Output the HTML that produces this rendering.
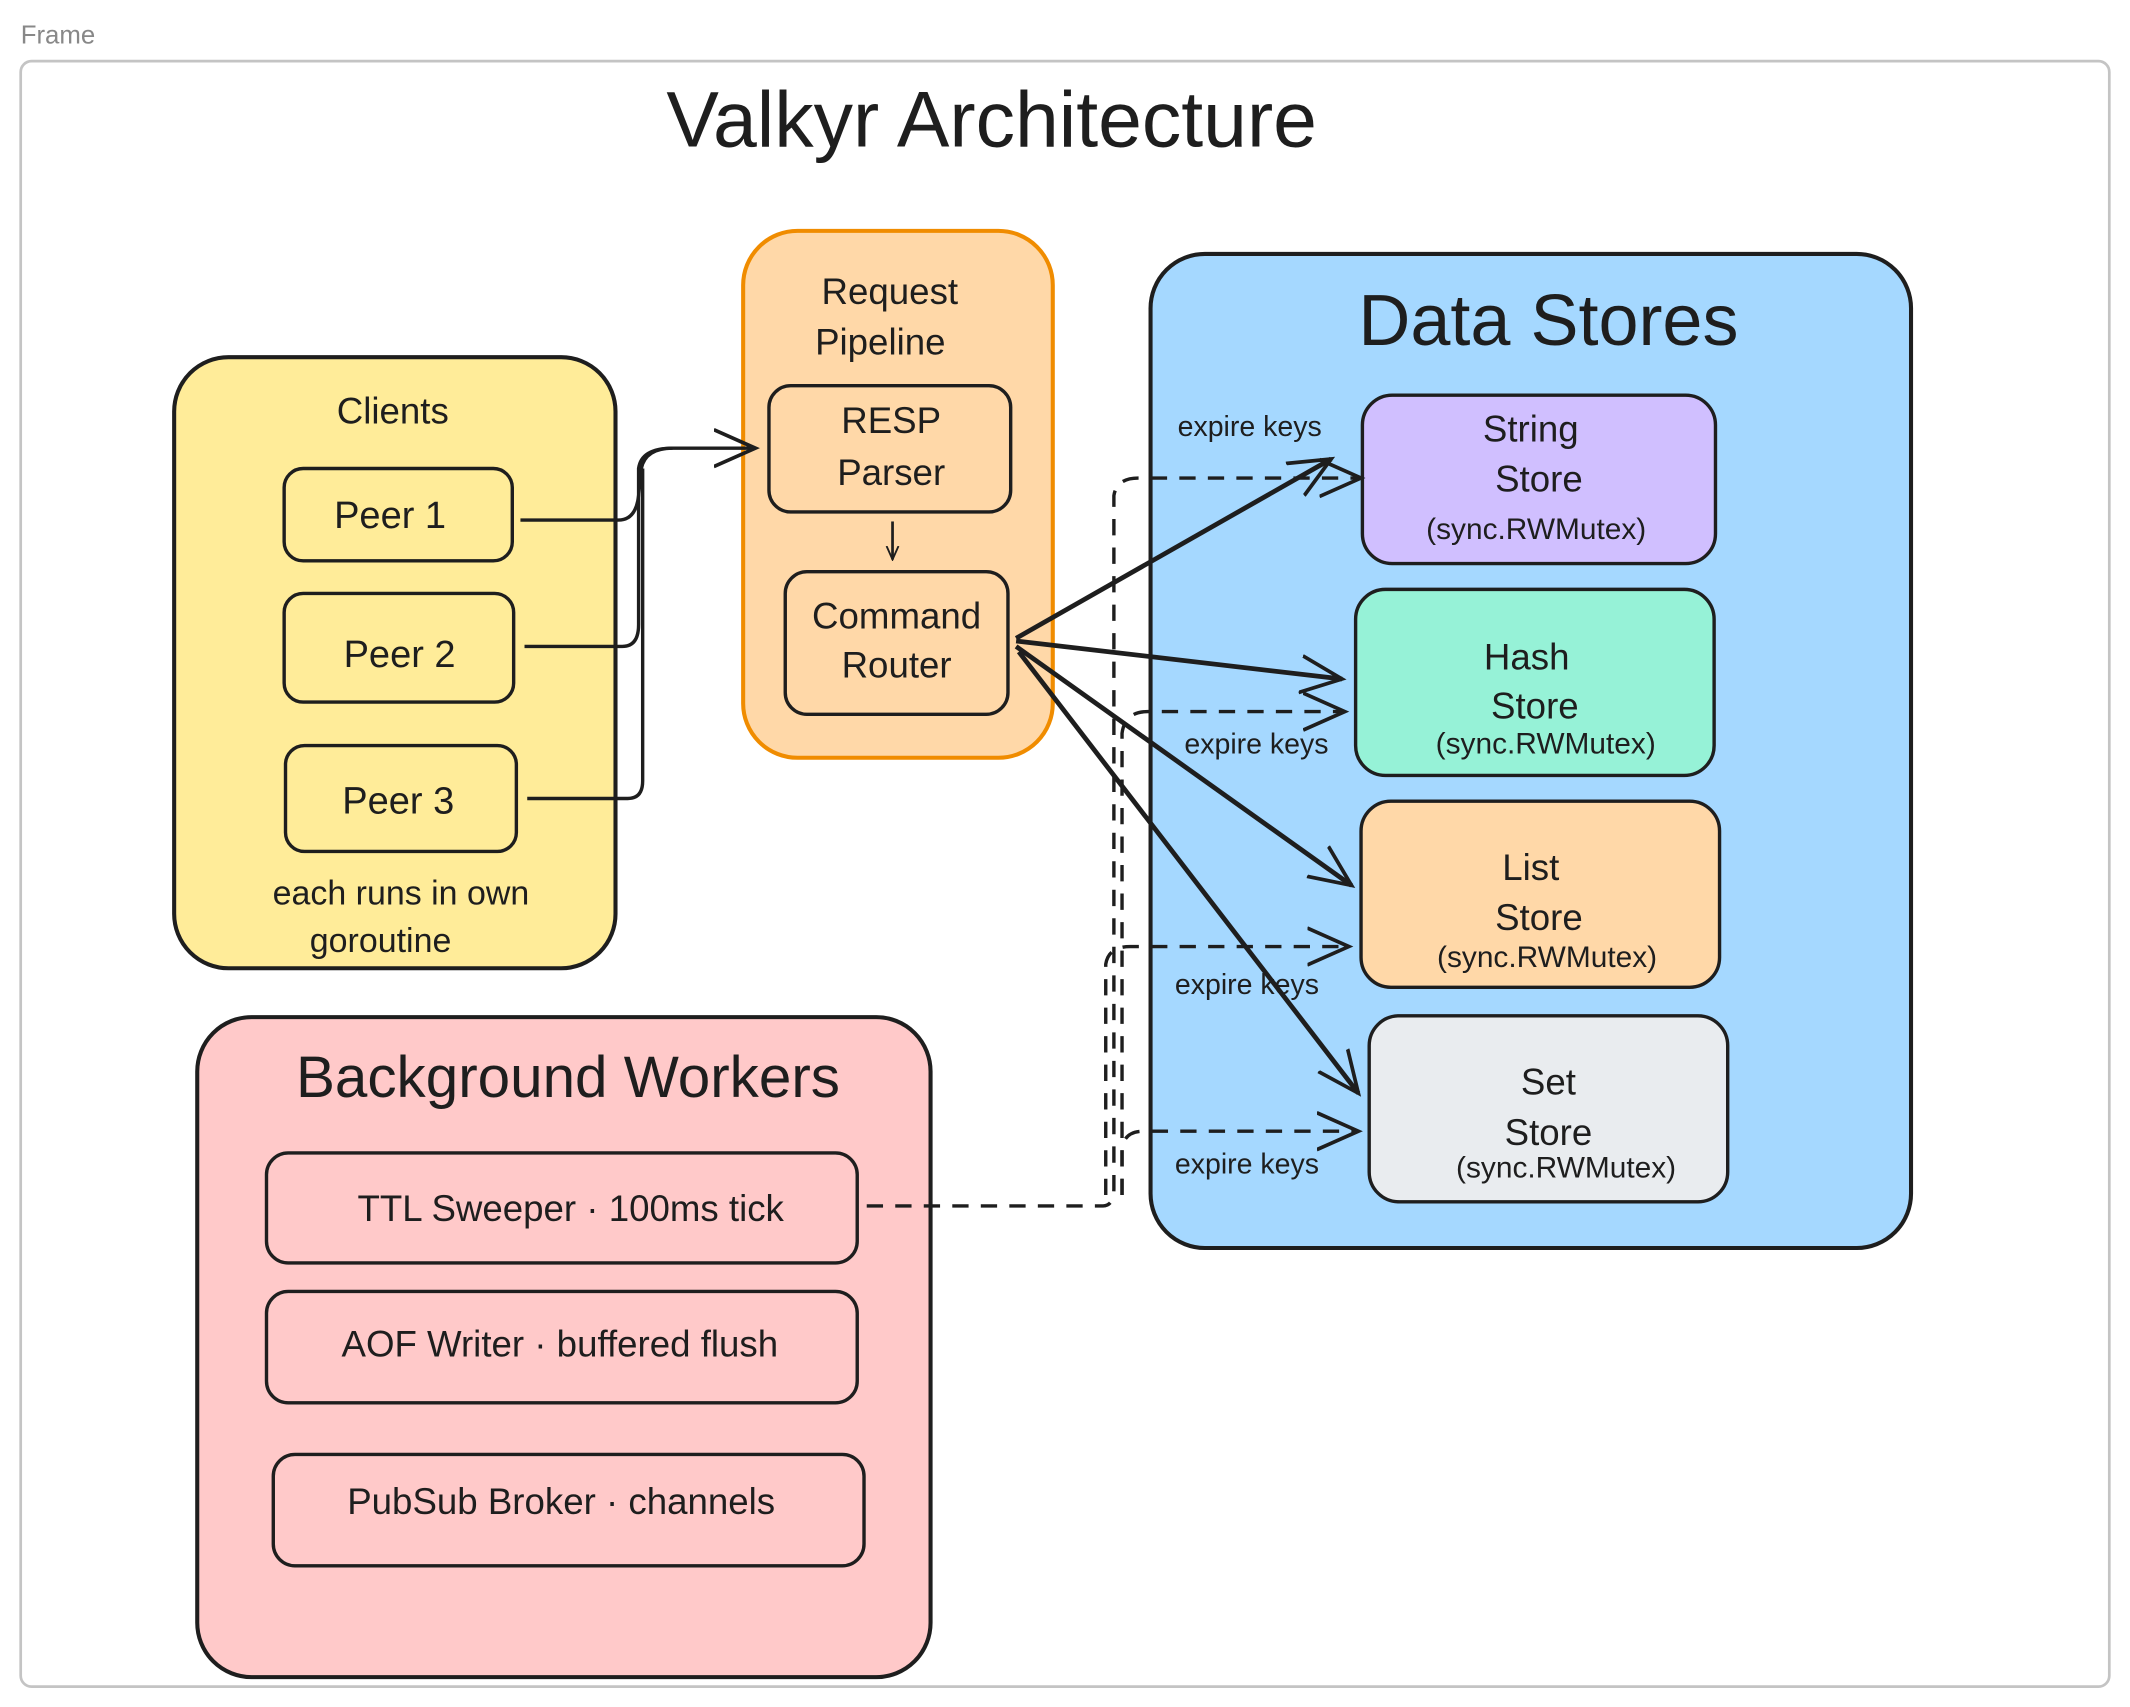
<!DOCTYPE html>
<html><head><meta charset="utf-8"><style>
html,body{margin:0;padding:0;background:#fff;}
svg{display:block;}
text{font-family:"Liberation Sans","DejaVu Sans",sans-serif;fill:#1e1e1e;text-anchor:middle;}
</style></head><body>
<svg width="2130" height="1707" viewBox="0 0 1568 1257" xmlns="http://www.w3.org/2000/svg">
<defs>
<marker id="a" viewBox="0 0 20 20" refX="18" refY="10" markerWidth="11" markerHeight="11" orient="auto" markerUnits="userSpaceOnUse"><path d="M0,2 L18,10 L0,18" fill="none" stroke="#1e1e1e" stroke-width="2.5"/></marker>
<marker id="b" viewBox="0 0 20 20" refX="18" refY="10" markerWidth="34" markerHeight="34" orient="auto" markerUnits="userSpaceOnUse"><path d="M0,2 L18,10 L0,18" fill="none" stroke="#1e1e1e" stroke-width="1.6"/></marker>
</defs>
<text x="15" y="32" style="text-anchor:start;fill:#888;font-size:19px">Frame</text>
<rect x="15" y="45" width="1538" height="1197" rx="8" fill="none" stroke="#c4c4c4" stroke-width="2"/>
<text x="730" y="108" font-size="58">Valkyr Architecture</text>

<!-- Clients -->
<rect x="128" y="263" width="325" height="450" rx="40" fill="#ffec99" stroke="#1e1e1e" stroke-width="3"/>
<text x="289" y="312" font-size="27">Clients</text>
<rect x="209" y="345" width="168" height="68" rx="14" fill="#ffec99" stroke="#1e1e1e" stroke-width="2.5"/>
<text x="287" y="389" font-size="28">Peer 1</text>
<rect x="209" y="437" width="169" height="80" rx="14" fill="#ffec99" stroke="#1e1e1e" stroke-width="2.5"/>
<text x="294" y="491" font-size="28">Peer 2</text>
<rect x="210" y="549" width="170" height="78" rx="14" fill="#ffec99" stroke="#1e1e1e" stroke-width="2.5"/>
<text x="293" y="599" font-size="28">Peer 3</text>
<text x="295" y="666" font-size="25">each runs in own</text>
<text x="280" y="701" font-size="25">goroutine</text>

<!-- Pipeline -->
<rect x="547" y="170" width="228" height="388" rx="40" fill="#ffd8a8" stroke="#f08c00" stroke-width="3"/>
<text x="655" y="224" font-size="27">Request</text>
<text x="648" y="261" font-size="27">Pipeline</text>
<rect x="566" y="284" width="178" height="93" rx="16" fill="#ffd8a8" stroke="#1e1e1e" stroke-width="2.5"/>
<text x="656" y="319" font-size="27">RESP</text>
<text x="656" y="357" font-size="27">Parser</text>
<line x1="657" y1="384" x2="657" y2="412" stroke="#1e1e1e" stroke-width="2" marker-end="url(#a)"/>
<rect x="578" y="421" width="164" height="105" rx="16" fill="#ffd8a8" stroke="#1e1e1e" stroke-width="2.5"/>
<text x="660" y="463" font-size="27">Command</text>
<text x="660" y="499" font-size="27">Router</text>

<!-- Data stores -->
<rect x="847" y="187" width="560" height="732" rx="40" fill="#a5d8ff" stroke="#1e1e1e" stroke-width="3"/>
<text x="1140" y="254" font-size="53">Data Stores</text>
<rect x="1003" y="291" width="260" height="124" rx="22" fill="#d0bfff" stroke="#1e1e1e" stroke-width="2.5"/>
<text x="1127" y="325" font-size="27">String</text>
<text x="1133" y="362" font-size="27">Store</text>
<text x="1131" y="397" font-size="22">(sync.RWMutex)</text>
<rect x="998" y="434" width="264" height="137" rx="22" fill="#96f2d7" stroke="#1e1e1e" stroke-width="2.5"/>
<text x="1124" y="493" font-size="27">Hash</text>
<text x="1130" y="529" font-size="27">Store</text>
<text x="1138" y="555" font-size="22">(sync.RWMutex)</text>
<rect x="1002" y="590" width="264" height="137" rx="22" fill="#ffd8a8" stroke="#1e1e1e" stroke-width="2.5"/>
<text x="1127" y="648" font-size="27">List</text>
<text x="1133" y="685" font-size="27">Store</text>
<text x="1139" y="712" font-size="22">(sync.RWMutex)</text>
<rect x="1008" y="748" width="264" height="137" rx="22" fill="#e9ecef" stroke="#1e1e1e" stroke-width="2.5"/>
<text x="1140" y="806" font-size="27">Set</text>
<text x="1140" y="843" font-size="27">Store</text>
<text x="1153" y="867" font-size="22">(sync.RWMutex)</text>

<!-- Background workers -->
<rect x="145" y="749" width="540" height="486" rx="40" fill="#ffc9c9" stroke="#1e1e1e" stroke-width="3"/>
<text x="418" y="808" font-size="43">Background Workers</text>
<rect x="196" y="849" width="435" height="81" rx="16" fill="#ffc9c9" stroke="#1e1e1e" stroke-width="2.5"/>
<text x="420" y="899" font-size="27">TTL Sweeper · 100ms tick</text>
<rect x="196" y="951" width="435" height="82" rx="16" fill="#ffc9c9" stroke="#1e1e1e" stroke-width="2.5"/>
<text x="412" y="999" font-size="27">AOF Writer · buffered flush</text>
<rect x="201" y="1071" width="435" height="82" rx="16" fill="#ffc9c9" stroke="#1e1e1e" stroke-width="2.5"/>
<text x="413" y="1115" font-size="27">PubSub Broker · channels</text>

<!-- client connectors -->
<g fill="none" stroke="#1e1e1e" stroke-width="2.5">
<path d="M383,383 L455,383 Q468,383 470,365 L472,345 Q475,330 495,330 L556,330" marker-end="url(#b)"/>
<path d="M386,476 L458,476 Q470,476 470,460 L470,345 Q472,330 495,330"/>
<path d="M388,588 L462,588 Q473,588 473,575 L473,345"/>
</g>

<!-- router arrows -->
<g fill="none" stroke="#1e1e1e" stroke-width="3.5">
<line x1="748" y1="470" x2="980" y2="338" marker-end="url(#b)"/>
<line x1="748" y1="472" x2="988" y2="500" marker-end="url(#b)"/>
<line x1="748" y1="476" x2="995" y2="652" marker-end="url(#b)"/>
<line x1="750" y1="480" x2="1000" y2="805" marker-end="url(#b)"/>
</g>

<!-- dashed -->
<g fill="none" stroke="#1e1e1e" stroke-width="2.5" stroke-dasharray="12,9">
<path d="M638,888 L812,888 Q820,888 820,875 L820,365 Q822,352 838,352 L1002,352" marker-end="url(#b)"/>
<path d="M826,880 L826,540 Q828,524 845,524 L990,524" marker-end="url(#b)"/>
<path d="M814,880 L814,710 Q816,697 832,697 L993,697" marker-end="url(#b)"/>
<path d="M826,880 L826,845 Q828,833 842,833 L1000,833" marker-end="url(#b)"/>
</g>
<text x="920" y="321" font-size="21">expire keys</text>
<text x="925" y="555" font-size="21">expire keys</text>
<text x="918" y="732" font-size="21">expire keys</text>
<text x="918" y="864" font-size="21">expire keys</text>
</svg>
</body></html>
